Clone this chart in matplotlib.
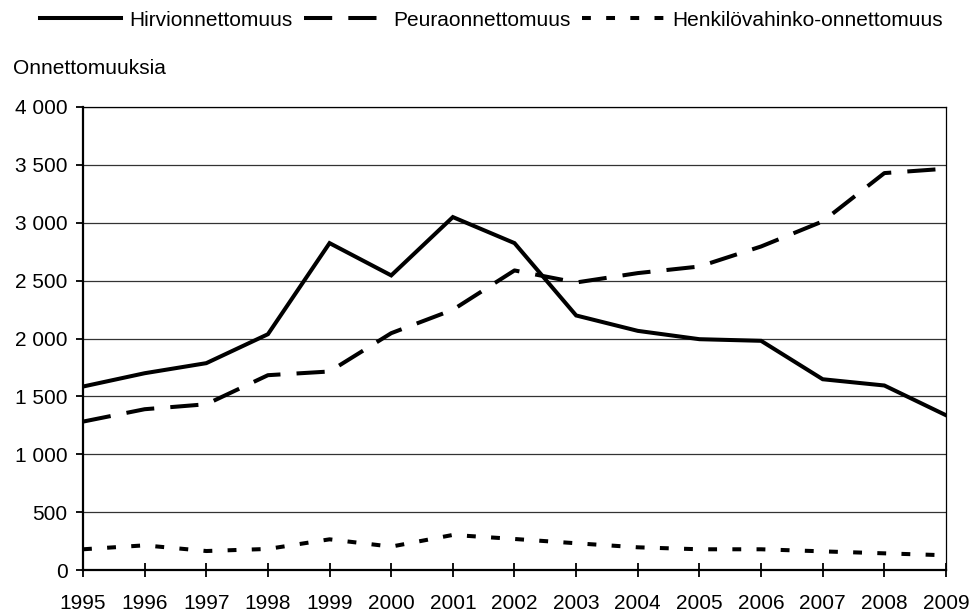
import matplotlib
matplotlib.use("Agg")
import matplotlib.pyplot as plt
import numpy as np

plt.rcParams['font.family'] = ['Liberation Sans', 'DejaVu Sans']

vuodet = list(range(1995, 2010))
hirvi = [1585, 1700, 1787, 2037, 2824, 2545, 3049, 2824, 2199, 2066, 1994, 1980, 1648, 1594, 1337]
peura = [1282, 1389, 1432, 1683, 1715, 2046, 2248, 2588, 2484, 2565, 2622, 2795, 3012, 3429, 3467]
henkilo = [179, 213, 164, 182, 265, 202, 303, 268, 231, 196, 179, 179, 161, 144, 127]

nimet = ['Hirvionnettomuus', 'Peuraonnettomuus', 'Henkilövahinko-onnettomuus']
y_ticks = [0, 500, 1000, 1500, 2000, 2500, 3000, 3500, 4000]

fs = 15
lw = 2.9

fig = plt.figure(figsize=(9.74, 6.14), dpi=100)
ax = fig.add_axes([83/974, 1 - 570/614, (946 - 83)/974, (570 - 107)/614])

ax.plot(vuodet, hirvi, color='black', lw=lw, solid_joinstyle='miter', label=nimet[0])
ax.plot(vuodet, peura, color='black', lw=lw, dashes=(7, 4), dash_capstyle='butt', label=nimet[1])
ax.plot(vuodet, henkilo, color='black', lw=lw, dashes=(2.2, 3.8), dash_capstyle='butt', label=nimet[2])

ax.set_xlim(1995, 2009)
ax.set_ylim(0, 4000)
ax.set_xticks(vuodet)
ax.set_xticklabels([str(v) for v in vuodet], fontsize=fs)
ax.set_yticks(y_ticks)
ax.set_yticklabels([f'{v:,}'.replace(',', ' ') for v in y_ticks], fontsize=fs)

for v in y_ticks[1:]:
    ax.axhline(v, color='#333333', lw=0.9, zorder=0)

ax.spines['left'].set_linewidth(1.6)
ax.spines['bottom'].set_linewidth(1.6)
ax.spines['top'].set_linewidth(0.9)
ax.spines['right'].set_linewidth(0.9)
ax.tick_params(axis='x', direction='inout', length=10, width=1.3, pad=12)
ax.tick_params(axis='y', direction='out', length=5, width=1.3, pad=6)

fig.text(13/974, 1 - 68/614, 'Onnettomuuksia', fontsize=fs, ha='left', va='center')

fig.legend(loc='center', bbox_to_anchor=(491/974, 1 - 20/614), ncol=3, frameon=False,
           fontsize=fs, handlelength=3.9, handletextpad=0.4, columnspacing=0.55,
           borderaxespad=0, borderpad=0)

fig.savefig('out.png', dpi=100)
